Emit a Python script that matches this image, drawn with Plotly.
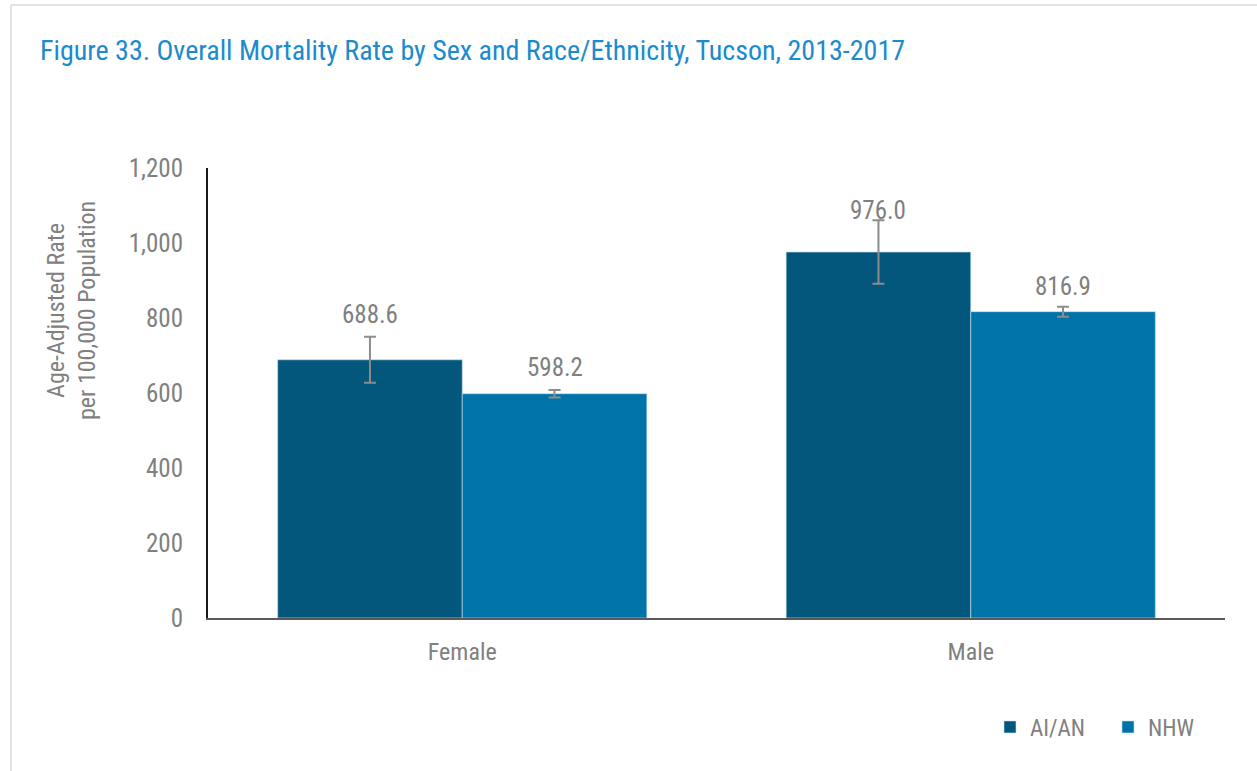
import plotly.graph_objects as go

# Data
sexes = ["Female", "Male"]
races = ["AI/AN", "NHW"]
rates = {
    "AI/AN": [688.6, 976.0],
    "NHW": [598.2, 816.9],
}
ci_half = {
    "AI/AN": [61.5, 84.5],
    "NHW": [10.0, 13.3],
}
y_ticks = [0, 200, 400, 600, 800, 1000, 1200]

# Styling
colors = {"AI/AN": "#03577c", "NHW": "#0073a8"}
label_lift = {"AI/AN": [22, 10], "NHW": [22, 20]}
FONT = "Liberation Sans Narrow, Arial Narrow, Roboto Condensed, sans-serif"
GRAY = "#808080"

W, H = 1257, 771
L, R, T, B = 208, 32, 168, 153
pw = W - L - R
ph = H - T - B


def px_x(x):
    return (x - L) / pw


def px_y(y):
    return (H - B - y) / ph


fig = go.Figure()
for race in races:
    fig.add_trace(go.Bar(
        name=race,
        x=sexes,
        y=rates[race],
        marker=dict(color=colors[race], line=dict(color="rgba(200,225,240,0.6)", width=1)),
        error_y=dict(type="data", array=ci_half[race], color="#8c8c8c",
                     thickness=2, width=6),
    ))

# Value labels above the confidence intervals
offsets = {"AI/AN": -0.1815, "NHW": 0.1815}
for race in races:
    for i, sex in enumerate(sexes):
        fig.add_annotation(
            x=i + offsets[race], xref="x",
            y=rates[race][i] + ci_half[race][i], yref="y",
            text=f"{rates[race][i]:.1f}", showarrow=False,
            yanchor="middle", yshift=label_lift[race][i],
            font=dict(family=FONT, size=25, color=GRAY),
        )

# Axis title
fig.add_annotation(
    x=px_x(71), xref="paper", y=px_y(311), yref="paper",
    text="Age-Adjusted Rate<br>per 100,000 Population", showarrow=False,
    textangle=-90, font=dict(family=FONT, size=24, color=GRAY),
    xanchor="center", yanchor="middle",
)

# Chart title
fig.add_annotation(
    x=px_x(38), xref="paper", y=px_y(50), yref="paper",
    text="Figure 33. Overall Mortality Rate by Sex and Race/Ethnicity, Tucson, 2013-2017",
    showarrow=False, xanchor="left", yanchor="middle",
    font=dict(family=FONT, size=28, color="#1b8bcd"),
)

# Chart frame
frame = dict(type="line", xref="paper", yref="paper",
             line=dict(color="#e3e3e3", width=2))
fig.add_shape(**frame, x0=px_x(11), x1=px_x(1300), y0=px_y(5), y1=px_y(5))
fig.add_shape(**frame, x0=px_x(11), x1=px_x(11), y0=px_y(5), y1=px_y(800))

fig.update_layout(
    width=W, height=H,
    margin=dict(l=L, r=R, t=T, b=B),
    paper_bgcolor="white", plot_bgcolor="white",
    barmode="group", bargap=0.274, bargroupgap=0,
    font=dict(family=FONT, color=GRAY, size=20),
    showlegend=True,
    legend=dict(
        orientation="h", x=px_x(990), xanchor="left",
        y=px_y(727), yanchor="middle",
        font=dict(family=FONT, size=23, color=GRAY),
        itemclick=False, entrywidth=73, entrywidthmode="pixels",
    ),
    xaxis=dict(
        showline=True, linecolor="#5a5a5a", linewidth=2,
        showgrid=False, ticks="", ticklabelstandoff=11,
        tickfont=dict(family=FONT, size=24, color=GRAY),
        fixedrange=True,
    ),
    yaxis=dict(
        range=[0, 1200], tickvals=y_ticks,
        ticktext=[f"{v:,}" for v in y_ticks],
        showline=True, linecolor="#1a1a1a", linewidth=2,
        showgrid=False, zeroline=False, ticks="",
        ticklabelstandoff=18,
        tickfont=dict(family=FONT, size=25, color=GRAY),
        fixedrange=True,
    ),
)

fig.write_html("out.html")
